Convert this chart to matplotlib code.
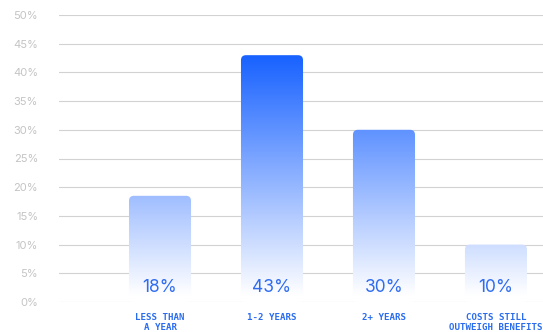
import numpy as np
import matplotlib.pyplot as plt
from matplotlib.patches import FancyBboxPatch
from matplotlib.colors import LinearSegmentedColormap

categories = ["LESS THAN\nA YEAR", "1-2 YEARS", "2+ YEARS", "COSTS STILL\nOUTWEIGH BENEFITS"]
values = [18.5, 43, 30, 10]
labels = ["18%", "43%", "30%", "10%"]
yticks = [0, 5, 10, 15, 20, 25, 30, 35, 40, 45, 50]

fig = plt.figure(figsize=(5.43, 3.32), dpi=100)
ax = fig.add_axes([59 / 543, 30 / 332, 484 / 543, 287 / 332])

ax.set_xlim(-0.902, 3.42)
ax.set_ylim(0, 50)

# gradient shared by all bars: white near the bottom, strong blue at 43%
cmap = LinearSegmentedColormap.from_list("g", ["#ffffff", "#1862ff"], N=256)
grad = np.linspace(0, 50, 256).reshape(-1, 1)
grad = np.clip((grad - 1.0) / 42.0, 0, 1)

w = 0.554
px_x = 484 / (3.42 + 0.902)
px_y = 287 / 50
r = 5 / px_x
for i, v in enumerate(values):
    bar = FancyBboxPatch((i - w / 2, 0), w, v,
                         boxstyle=f"round,pad=0,rounding_size={r}",
                         mutation_aspect=px_x / px_y,
                         facecolor="none", edgecolor="none")
    ax.add_patch(bar)
    im = ax.imshow(grad, cmap=cmap, vmin=0, vmax=1, origin="lower",
                   extent=[-1, 4, 0, 50], aspect="auto", zorder=2,
                   interpolation="bilinear")
    im.set_clip_path(bar)
    ax.text(i, 2.6, labels[i], ha="center", va="center", fontsize=12.5,
            family="Inter", color="#2f6cf0", zorder=3)

ax.set_yticks(yticks)
ax.set_yticklabels([f"{t}%" for t in yticks])
ax.grid(axis="y", color="#d2d2d2", linewidth=0.8, zorder=0)
ax.set_axisbelow(True)
for s in ax.spines.values():
    s.set_visible(False)

ax.set_xticks(range(len(categories)))
ax.set_xticklabels(categories)
for t in ax.get_xticklabels():
    t.set_family("DejaVu Sans Mono")
    t.set_fontsize(6.6)
    t.set_fontweight("bold")
    t.set_color("#2a6cf0")
    t.set_linespacing(1.1)
for t in ax.get_yticklabels():
    t.set_family("Inter")
    t.set_fontsize(8)
    t.set_color("#c4c4c4")
ax.tick_params(axis="both", length=0)
ax.tick_params(axis="x", pad=8)
ax.tick_params(axis="y", pad=15)

plt.savefig("out.png", dpi=100)
